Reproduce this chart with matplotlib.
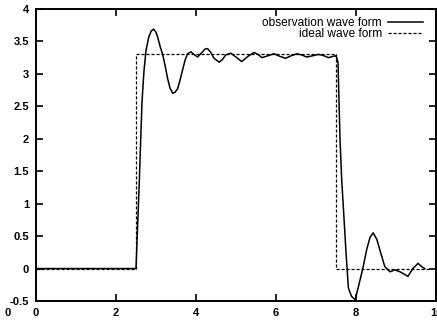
import matplotlib
matplotlib.use("Agg")
import matplotlib.pyplot as plt

plt.rcParams['font.family'] = ['Liberation Sans', 'DejaVu Sans']
plt.rcParams['axes.unicode_minus'] = False

# ideal wave form
ideal_x = [0, 2.5, 2.5, 7.5, 7.5, 9.85]
ideal_y = [0, 0, 3.3, 3.3, 0, 0]

# observation wave form
obs_x = [0, 2.50, 2.58, 2.65, 2.70, 2.75, 2.82, 2.88, 2.94, 3.00, 3.04, 3.10,
         3.17, 3.23, 3.29, 3.35, 3.42, 3.48, 3.54, 3.60, 3.66, 3.73, 3.79,
         3.87, 3.95, 4.04, 4.15, 4.22, 4.29, 4.37, 4.45, 4.58, 4.66, 4.74,
         4.87, 5.00, 5.14, 5.30, 5.45, 5.55, 5.65, 5.80, 5.95, 6.10, 6.24,
         6.38, 6.53, 6.65, 6.77, 6.92, 7.06, 7.20, 7.31, 7.42, 7.50, 7.55,
         7.60, 7.64, 7.69, 7.75, 7.81, 7.89, 7.98, 8.06, 8.17, 8.27, 8.35,
         8.43, 8.52, 8.60, 8.72, 8.85, 8.97, 9.10, 9.30, 9.42, 9.55, 9.64,
         9.72]
obs_y = [0, 0.00, 1.30, 2.57, 3.05, 3.36, 3.57, 3.66, 3.69, 3.64, 3.57, 3.43,
         3.29, 3.12, 2.93, 2.78, 2.70, 2.72, 2.77, 2.90, 3.05, 3.22, 3.31,
         3.34, 3.30, 3.26, 3.33, 3.38, 3.39, 3.33, 3.24, 3.18, 3.22, 3.29,
         3.32, 3.26, 3.19, 3.27, 3.33, 3.30, 3.25, 3.28, 3.31, 3.27, 3.24,
         3.28, 3.31, 3.29, 3.26, 3.28, 3.30, 3.28, 3.25, 3.27, 3.28, 3.18,
         2.00, 1.40, 0.88, 0.25, -0.30, -0.43, -0.48, -0.28, 0.00, 0.30, 0.48,
         0.55, 0.45, 0.28, 0.03, -0.05, -0.02, -0.05, -0.12, 0.00, 0.08, 0.03,
         0.00]

xticks = [0, 2, 4, 6, 8, 10]
yticks = [-0.5, 0, 0.5, 1, 1.5, 2, 2.5, 3, 3.5, 4]
ytick_labels = ['-0.5', '0', '0.5', '1', '1.5', '2', '2.5', '3', '3.5', '4']

W, H = 437, 321
fig = plt.figure(figsize=(W / 100, H / 100), dpi=100)
ax = fig.add_axes([36 / W, (H - 301) / H, (436 - 36) / W, (301 - 9) / H])

ax.plot(obs_x, obs_y, color='black', lw=1.1, label='observation wave form',
        solid_joinstyle='round')
ax.plot(ideal_x, ideal_y, color='black', lw=0.9, linestyle=(0, (2.5, 1.5)),
        label='ideal wave form')

ax.set_xlim(0, 10)
ax.set_ylim(-0.5, 4)
ax.set_xticks(xticks)
ax.set_xticklabels([str(t) for t in xticks])
ax.set_yticks(yticks)
ax.set_yticklabels(ytick_labels)
ax.tick_params(direction='in', length=5, width=1.2, top=True, right=True,
               labelsize=8, pad=5)
for lab in ax.get_xticklabels() + ax.get_yticklabels():
    lab.set_fontweight('bold')
for s in ax.spines.values():
    s.set_linewidth(1.4)

ax.legend(loc='upper right', bbox_to_anchor=(423 / W, (H - 17) / H),
          bbox_transform=fig.transFigure, frameon=False, markerfirst=False,
          fontsize=8.6, handlelength=2.9, handletextpad=0.55, labelspacing=-0.1,
          borderpad=0, borderaxespad=0)

fig.text(8 / W, (H - 313) / H, '0', fontsize=8, fontweight='bold',
         ha='center', va='center')

fig.savefig('out.png', dpi=100)
